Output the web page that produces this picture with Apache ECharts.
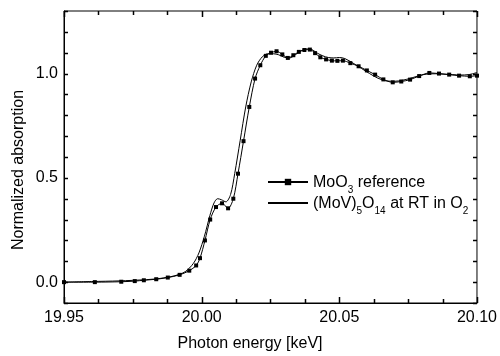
<!DOCTYPE html>
<html>
<head>
<meta charset="utf-8">
<script src="https://cdn.jsdelivr.net/npm/echarts@6/dist/echarts.min.js"></script>
<style>html,body{margin:0;padding:0;background:#fff}#c{width:500px;height:356px}</style>
</head>
<body>
<div id="c"></div>
<script>
var moo3Energy = [19.95,19.9612,19.9708,19.9757,19.979,19.9835,19.9877,19.992,19.9955,19.998,19.9994,20.0012,20.0031,20.0052,20.0074,20.0096,20.0115,20.0132,20.0152,20.0173,20.0194,20.0213,20.0233,20.0252,20.0272,20.0293,20.0313,20.0333,20.0353,20.0373,20.0393,20.0412,20.0431,20.0452,20.0473,20.0493,20.0513,20.054,20.057,20.060,20.063,20.066,20.0694,20.0725,20.0757,20.079,20.0827,20.0862,20.0899,20.0935,20.0974,20.10];
var moo3Abs = [0.0,0.0,0.002,0.005,0.009,0.014,0.022,0.035,0.055,0.08,0.115,0.20,0.30,0.36,0.378,0.354,0.40,0.52,0.676,0.84,0.976,1.04,1.085,1.10,1.107,1.092,1.075,1.088,1.104,1.113,1.115,1.098,1.078,1.068,1.062,1.061,1.062,1.05,1.035,1.015,0.995,0.972,0.958,0.962,0.971,0.988,1.003,1.0,0.995,0.99,0.987,0.99];
var movEnergy = [19.95,19.96,19.97,19.98,19.985,19.99,19.994,19.997,19.999,20.001,20.003,20.0045,20.0058,20.0072,20.0088,20.0105,20.012,20.014,20.016,20.018,20.020,20.022,20.024,20.026,20.028,20.030,20.032,20.034,20.036,20.038,20.040,20.042,20.044,20.046,20.048,20.050,20.052,20.055,20.058,20.061,20.064,20.067,20.070,20.073,20.076,20.079,20.082,20.085,20.088,20.091,20.094,20.097,20.10];
var movAbs = [0.0,0.003,0.006,0.012,0.018,0.03,0.05,0.09,0.14,0.22,0.32,0.38,0.40,0.395,0.385,0.42,0.52,0.68,0.84,0.96,1.04,1.08,1.095,1.095,1.09,1.078,1.075,1.09,1.108,1.118,1.115,1.098,1.085,1.077,1.075,1.077,1.072,1.05,1.025,1.0,0.978,0.965,0.963,0.968,0.978,0.99,0.998,0.999,0.997,0.995,0.993,0.995,1.005];
var xTicks = [19.95, 20.00, 20.05, 20.10];
var xMinorTicks = [19.9625, 19.975, 19.9875, 20.0125, 20.025, 20.0375, 20.0625, 20.075, 20.0875];
var yTickLabels = [0.0, 0.5, 1.0];
var yTicks = [-0.1, 0.0, 0.1, 0.2, 0.3, 0.4, 0.5, 0.6, 0.7, 0.8, 0.9, 1.0, 1.1, 1.2, 1.3];
var xTitle = 'Photon energy [keV]';
var yTitle = 'Normalized absorption';
var X_MIN = 19.95, X_MAX = 20.10, Y_MIN = -0.1, Y_MAX = 1.3;

function zip(a, b) { return a.map(function (v, i) { return [v, b[i]]; }); }

var FONT = 'Liberation Sans';
var chart = echarts.init(document.getElementById('c'), null, {renderer: 'canvas'});
var axisLine = {show: true, onZero: false, lineStyle: {color: '#000', width: 1}};
var rich = {
  n: {fontFamily: FONT, fontSize: 16, color: '#000', lineHeight: 18, verticalAlign: 'bottom'},
  s: {fontFamily: FONT, fontSize: 10, color: '#000', lineHeight: 18, verticalAlign: 'bottom', padding: [0, 0, -4, 0]}
};
function seg(x1, y1, x2, y2) {
  return {type: 'line', shape: {x1: x1, y1: y1, x2: x2, y2: y2}, style: {stroke: '#000', lineWidth: 1.5}};
}
var xTickData = xTicks.map(function (v) { return [v, Y_MIN, 1]; }).concat(xMinorTicks.map(function (v) { return [v, Y_MIN, 0]; }));
var yTickData = yTicks.map(function (v) { return [X_MIN, v]; });

chart.setOption({
  animation: false,
  backgroundColor: '#fff',
  grid: {left: 64, right: 21, top: 11, bottom: 53, containLabel: false, show: true, borderColor: '#000', borderWidth: 1, backgroundColor: 'transparent'},
  legend: {
    orient: 'vertical', left: 262, top: 170, itemWidth: 40, itemHeight: 8, itemGap: 1,
    data: ['MoO3 reference', {name: '(MoV)5O14 at RT in O2', itemStyle: {opacity: 0}}],
    textStyle: {rich: rich},
    formatter: function (name) {
      if (name === 'MoO3 reference') return '{n|MoO}{s|3}{n| reference}';
      return '{n|(MoV)}{s|5}{n|O}{s|14}{n| at RT in O}{s|2}';
    }
  },
  graphic: [
    {type: 'text', left: 'center', top: 336, style: {text: xTitle, font: '16px "Liberation Sans"', fill: '#000'}, x: 274 - 250},
    {type: 'text', x: 19, y: 170, rotation: Math.PI / 2, style: {text: yTitle, font: '16px "Liberation Sans"', fill: '#000', align: 'center', verticalAlign: 'middle'}}
  ],
  xAxis: {
    type: 'value', min: X_MIN, max: X_MAX, interval: 0.05,
    axisLine: axisLine,
    axisTick: {show: false},
    axisLabel: {fontFamily: FONT, fontSize: 16, color: '#000', margin: 7,
      formatter: function (v) {
        for (var i = 0; i < xTicks.length; i++) if (Math.abs(v - xTicks[i]) < 1e-6) return xTicks[i].toFixed(2);
        return '';
      }},
    splitLine: {show: false}
  },
  yAxis: {
    type: 'value', min: Y_MIN, max: Y_MAX, interval: 0.1,
    axisLine: axisLine,
    axisTick: {show: false},
    axisLabel: {fontFamily: FONT, fontSize: 16, color: '#000', margin: 6,
      formatter: function (v) {
        for (var i = 0; i < yTickLabels.length; i++) if (Math.abs(v - yTickLabels[i]) < 1e-6) return yTickLabels[i].toFixed(1);
        return '';
      }},
    splitLine: {show: false}
  },
  series: [{
    name: 'MoO3 reference', type: 'line', data: zip(moo3Energy, moo3Abs),
    symbol: 'rect', symbolSize: 4, showAllSymbol: true, smooth: 0.3,
    lineStyle: {color: '#000', width: 1}, itemStyle: {color: '#000'}
  }, {
    name: '(MoV)5O14 at RT in O2', type: 'line', data: zip(movEnergy, movAbs),
    symbol: 'none', smooth: 0.3,
    lineStyle: {color: '#000', width: 1}, itemStyle: {color: '#000'}
  }, {
    name: 'xticks', type: 'custom', silent: true, clip: false, z: 5,
    data: xTickData,
    renderItem: function (params, api) {
      var v = api.value(0), major = api.value(2);
      var b = api.coord([v, Y_MIN]), t = api.coord([v, Y_MAX]);
      var x = Math.round(b[0]) + 0.5, len = major ? 6 : 4;
      return {type: 'group', children: [seg(x, b[1], x, b[1] - len), seg(x, t[1], x, t[1] + len)]};
    }
  }, {
    name: 'yticks', type: 'custom', silent: true, clip: false, z: 5,
    data: yTickData,
    renderItem: function (params, api) {
      var v = api.value(1);
      var l = api.coord([X_MIN, v]), r = api.coord([X_MAX, v]);
      var y = Math.round(l[1]) + 0.5;
      return {type: 'group', children: [seg(l[0], y, l[0] + 4, y), seg(r[0], y, r[0] - 4, y)]};
    }
  }]
});
</script>
</body>
</html>
